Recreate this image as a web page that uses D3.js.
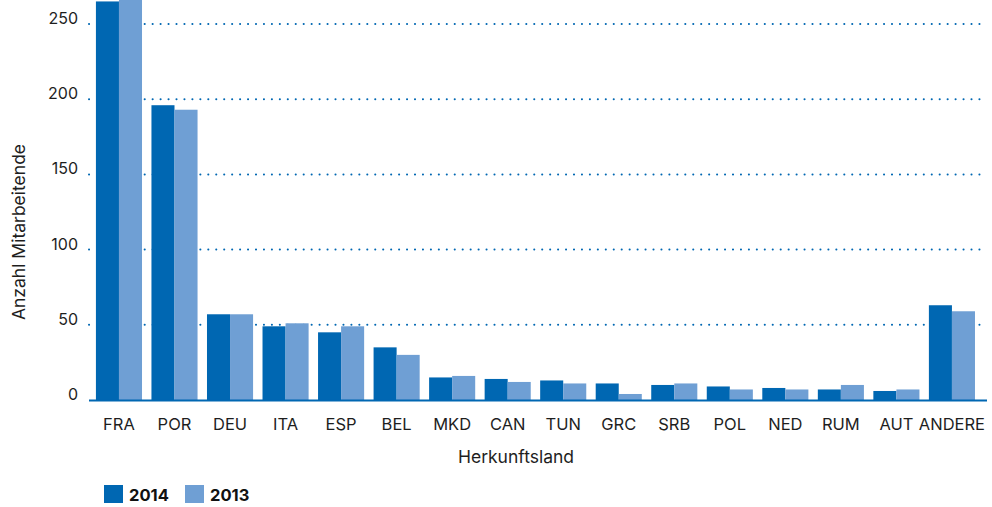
<!DOCTYPE html>
<html>
<head>
<meta charset="utf-8">
<script src="https://cdn.jsdelivr.net/npm/d3@7"></script>
<style>
  body { margin: 0; background: #fff; }
  svg { display: block; font-family: Inter, "DejaVu Sans", sans-serif; }
</style>
</head>
<body>
<svg id="chart"></svg>
<script>
// data
const countries = ['FRA', 'POR', 'DEU', 'ITA', 'ESP', 'BEL', 'MKD', 'CAN', 'TUN', 'GRC', 'SRB', 'POL', 'NED', 'RUM', 'AUT', 'ANDERE'];
const values2014 = [265, 196, 57, 49, 45, 35, 15, 14, 13, 11, 10, 9, 8, 7, 6, 63];
const values2013 = [270, 193, 57, 51, 49, 30, 16, 12, 11, 4, 11, 7, 7, 10, 7, 59];
const years = ['2014', '2013'];
const yTicks = [0, 50, 100, 150, 200, 250];

const width = 992, height = 507;
const colors = { '2014': '#0067b2', '2013': '#6f9fd4' };
const textColor = '#1e1e1e';

const svg = d3.select('#chart')
  .attr('width', width)
  .attr('height', height);

const x = d3.scaleBand()
  .domain(countries)
  .range([91.2, 979.7])
  .paddingInner(0.17)
  .paddingOuter(0.085);

const xSub = d3.scaleBand()
  .domain(years)
  .range([0, x.bandwidth()]);

const y = d3.scaleLinear()
  .domain([0, 250])
  .range([400, 24]);

// dotted grid lines (behind the bars)
svg.append('g')
  .selectAll('line')
  .data(yTicks.filter(d => d > 0))
  .join('line')
  .attr('x1', 89)
  .attr('x2', 987)
  .attr('y1', d => y(d))
  .attr('y2', d => y(d))
  .attr('stroke', '#0067b2')
  .attr('stroke-width', 2)
  .attr('stroke-linecap', 'round')
  .attr('stroke-dasharray', '0.1 7.85');

// y tick labels (baseline sits on the grid line)
svg.append('g')
  .selectAll('text')
  .data(yTicks)
  .join('text')
  .attr('x', 78)
  .attr('y', d => y(d))
  .attr('text-anchor', 'end')
  .attr('fill', textColor)
  .style('font-size', '16px')
  .text(d => d);

// bars
const rows = countries.map((c, i) => ({ country: c, '2014': values2014[i], '2013': values2013[i] }));

svg.append('g')
  .selectAll('g')
  .data(rows)
  .join('g')
  .attr('transform', d => `translate(${x(d.country)},0)`)
  .selectAll('rect')
  .data(d => years.map(k => ({ key: k, value: d[k] })))
  .join('rect')
  .attr('x', d => xSub(d.key))
  .attr('width', xSub.bandwidth())
  .attr('y', d => y(d.value))
  .attr('height', d => y(0) - y(d.value))
  .attr('fill', d => colors[d.key]);

// baseline
svg.append('line')
  .attr('x1', 89)
  .attr('x2', 987)
  .attr('y1', y(0) + 0.5)
  .attr('y2', y(0) + 0.5)
  .attr('stroke', '#0067b2')
  .attr('stroke-width', 2);

// x labels
svg.append('g')
  .selectAll('text')
  .data(countries)
  .join('text')
  .attr('x', d => x(d) + x.bandwidth() / 2)
  .attr('y', 430)
  .attr('text-anchor', 'middle')
  .attr('fill', textColor)
  .style('font-size', '16.5px')
  .text(d => d);

// axis titles
svg.append('text')
  .attr('x', 516)
  .attr('y', 463)
  .attr('text-anchor', 'middle')
  .attr('fill', textColor)
  .style('font-size', '17.5px')
  .text('Herkunftsland');

svg.append('text')
  .attr('transform', 'translate(25,232) rotate(-90)')
  .attr('text-anchor', 'middle')
  .attr('fill', textColor)
  .style('font-size', '17.5px')
  .text('Anzahl Mitarbeitende');

// legend
const legend = svg.append('g')
  .selectAll('g')
  .data(years)
  .join('g')
  .attr('transform', (d, i) => `translate(${104 + i * 81},485)`);

legend.append('rect')
  .attr('width', 19)
  .attr('height', 18)
  .attr('fill', d => colors[d]);

legend.append('text')
  .attr('x', 25)
  .attr('y', 16)
  .attr('fill', '#111')
  .style('font-size', '16.5px')
  .style('font-weight', 'bold')
  .text(d => d);
</script>
</body>
</html>
